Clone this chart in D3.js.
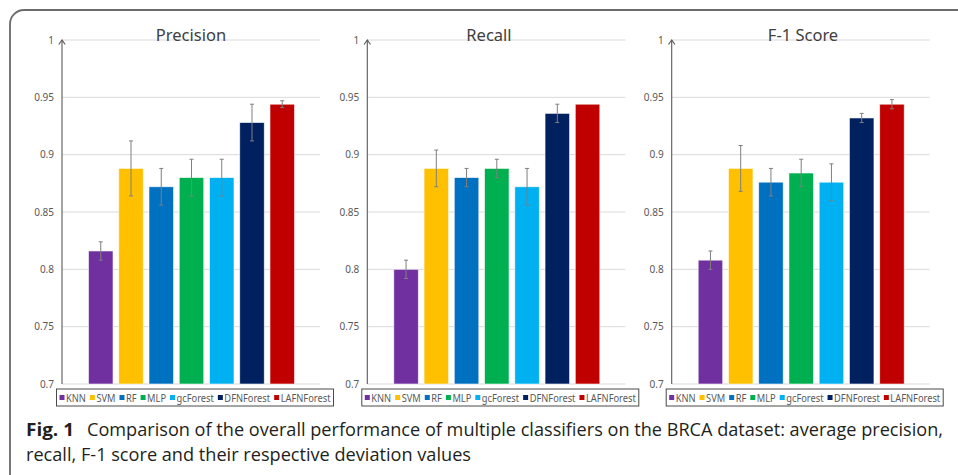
<!DOCTYPE html>
<html>
<head>
<meta charset="utf-8">
<script src="https://cdn.jsdelivr.net/npm/d3@7"></script>
<style>
  body { margin: 0; background: #fff; }
  svg { display: block; }
</style>
</head>
<body>
<svg id="chart" width="958" height="475"></svg>
<script>
// classifiers (one series each) and their colours
const categories = ["KNN", "SVM", "RF", "MLP", "gcForest", "DFNForest", "LAFNForest"];
const colors = ["#7030A0", "#FFC000", "#0070C0", "#00B050", "#00B0F0", "#002060", "#C00000"];

// average values and deviations
const precision    = [0.816, 0.888, 0.872, 0.880, 0.880, 0.928, 0.944];
const precisionErr = [0.008, 0.024, 0.016, 0.016, 0.016, 0.016, 0.003];
const recall       = [0.800, 0.888, 0.880, 0.888, 0.872, 0.936, 0.944];
const recallErr    = [0.008, 0.016, 0.008, 0.008, 0.016, 0.008, 0.000];
const f1           = [0.808, 0.888, 0.876, 0.884, 0.876, 0.932, 0.944];
const f1Err        = [0.008, 0.020, 0.012, 0.012, 0.016, 0.004, 0.004];

const titles = ["Precision", "Recall", "F-1 Score"];
const yTicks = [0.7, 0.75, 0.8, 0.85, 0.9, 0.95, 1];
const yTickLabels = ["0.7", "0.75", "0.8", "0.85", "0.9", "0.95", "1"];

const captionBold = "Fig. 1";
const captionLine1 = "Comparison of the overall performance of multiple classifiers on the BRCA dataset: average precision,";
const captionLine2 = "recall, F-1 score and their respective deviation values";

const panels = [
  { title: titles[0], values: precision, errs: precisionErr, axisX: 62,    titleX: 191 },
  { title: titles[1], values: recall,    errs: recallErr,    axisX: 367.3, titleX: 489 },
  { title: titles[2], values: f1,        errs: f1Err,        axisX: 671.7, titleX: 803 }
];

const svg = d3.select("#chart");
const plotW = 258;
const chartFont = "'Noto Sans', 'DejaVu Sans', sans-serif";

// outer frame of the figure
svg.append("rect")
  .attr("x", 10).attr("y", 10)
  .attr("width", 1000).attr("height", 480)
  .attr("rx", 14)
  .attr("fill", "none")
  .attr("stroke", "#6b6b6b")
  .attr("stroke-width", 1.8);

const y = d3.scaleLinear().domain([0.7, 1]).range([384, 40]);

panels.forEach(p => {
  const g = svg.append("g").attr("transform", `translate(${p.axisX},0)`);

  // gridlines
  g.append("g")
    .selectAll("line")
    .data(yTicks)
    .enter()
    .append("line")
    .attr("x1", 0).attr("x2", plotW)
    .attr("y1", d => y(d)).attr("y2", d => y(d))
    .attr("stroke", "#d9d9d9")
    .attr("stroke-width", 1);

  // y axis labels
  const yAxis = d3.axisLeft(y)
    .tickValues(yTicks)
    .tickFormat((d, i) => yTickLabels[i])
    .tickSize(0)
    .tickPadding(8);
  const ax = g.append("g").call(yAxis);
  ax.select(".domain").remove();
  ax.selectAll("text")
    .style("font-family", chartFont)
    .style("font-size", "10px")
    .attr("fill", "#595959");

  // axis line with an open arrowhead
  g.append("line")
    .attr("x1", 0).attr("x2", 0)
    .attr("y1", y(0.7)).attr("y2", y(1))
    .attr("stroke", "#595959").attr("stroke-width", 1.1);
  g.append("path")
    .attr("d", `M-3.2,${y(1) + 4.5}L0,${y(1)}L3.2,${y(1) + 4.5}`)
    .attr("fill", "none").attr("stroke", "#595959").attr("stroke-width", 1.1);

  // bars, one per classifier
  const x = d3.scaleBand()
    .domain(categories)
    .range([26.5, 232.5])
    .paddingInner(0.19)
    .paddingOuter(0);

  g.selectAll("rect.bar")
    .data(categories)
    .enter()
    .append("rect")
    .attr("class", "bar")
    .attr("x", d => x(d))
    .attr("y", (d, i) => y(p.values[i]))
    .attr("width", x.bandwidth())
    .attr("height", (d, i) => y(0.7) - y(p.values[i]))
    .attr("fill", (d, i) => colors[i])
    .attr("stroke", "rgba(255,255,255,0.7)")
    .attr("stroke-width", 0.8);

  // error bars
  const eb = g.selectAll("g.err")
    .data(categories)
    .enter()
    .append("g")
    .attr("class", "err")
    .attr("stroke", "#7f7f7f")
    .attr("stroke-width", 1);
  const cx = d => x(d) + x.bandwidth() / 2;
  eb.filter((d, i) => p.errs[i] > 0).each(function(d) {
    const idx = categories.indexOf(d);
    const hi = y(p.values[idx] + p.errs[idx]);
    const lo = y(p.values[idx] - p.errs[idx]);
    const e = d3.select(this);
    e.append("line").attr("x1", cx(d)).attr("x2", cx(d)).attr("y1", hi).attr("y2", lo);
    e.append("line").attr("x1", cx(d) - 2).attr("x2", cx(d) + 2).attr("y1", hi).attr("y2", hi);
    e.append("line").attr("x1", cx(d) - 2).attr("x2", cx(d) + 2).attr("y1", lo).attr("y2", lo);
  });

  // title
  svg.append("text")
    .attr("x", p.titleX).attr("y", 41)
    .attr("text-anchor", "middle")
    .style("font-family", chartFont)
    .style("font-size", "16.5px")
    .attr("fill", "#404040")
    .text(p.title);

  // legend box
  const lx = p.axisX - 5.5, lw = 277;
  const leg = svg.append("g").attr("transform", `translate(${lx},389)`);
  leg.append("rect")
    .attr("width", lw).attr("height", 17)
    .attr("fill", "#fff")
    .attr("stroke", "#4a4a4a").attr("stroke-width", 1);

  const items = leg.selectAll("g.item")
    .data(categories)
    .enter()
    .append("g")
    .attr("class", "item");
  items.append("rect")
    .attr("width", 5).attr("height", 5)
    .attr("y", 6)
    .attr("fill", (d, i) => colors[i]);
  const labels = items.append("text")
    .attr("y", 12.5)
    .style("font-family", chartFont)
    .style("font-size", "11px")
    .attr("fill", "#595959")
    .text(d => d);

  // fit labels into the box
  const natural = labels.nodes().map(n => n.getComputedTextLength());
  const swW = 6.5, gap = 4, pad = 3;
  const room = lw - 2 * pad - categories.length * swW - (categories.length - 1) * gap;
  const k = Math.min(1, room / d3.sum(natural));
  let cur = pad;
  items.each(function(d, i) {
    const w = natural[i] * k;
    const it = d3.select(this).attr("transform", `translate(${cur},0)`);
    it.select("text").attr("x", swW)
      .attr("textLength", w).attr("lengthAdjust", "spacingAndGlyphs");
    cur += swW + w + gap;
  });
});

// caption
const capFont = "'Open Sans', 'Noto Sans', sans-serif";
svg.append("text")
  .attr("x", 26).attr("y", 436)
  .style("font-family", capFont).style("font-size", "18px").style("font-weight", "bold")
  .attr("fill", "#231f20")
  .attr("textLength", 48).attr("lengthAdjust", "spacingAndGlyphs")
  .text(captionBold);
svg.append("text")
  .attr("x", 87).attr("y", 436)
  .style("font-family", capFont).style("font-size", "18px")
  .attr("fill", "#231f20")
  .attr("textLength", 856).attr("lengthAdjust", "spacingAndGlyphs")
  .text(captionLine1);
svg.append("text")
  .attr("x", 26).attr("y", 461)
  .style("font-family", capFont).style("font-size", "18px")
  .attr("fill", "#231f20")
  .attr("textLength", 445).attr("lengthAdjust", "spacingAndGlyphs")
  .text(captionLine2);
</script>
</body>
</html>
